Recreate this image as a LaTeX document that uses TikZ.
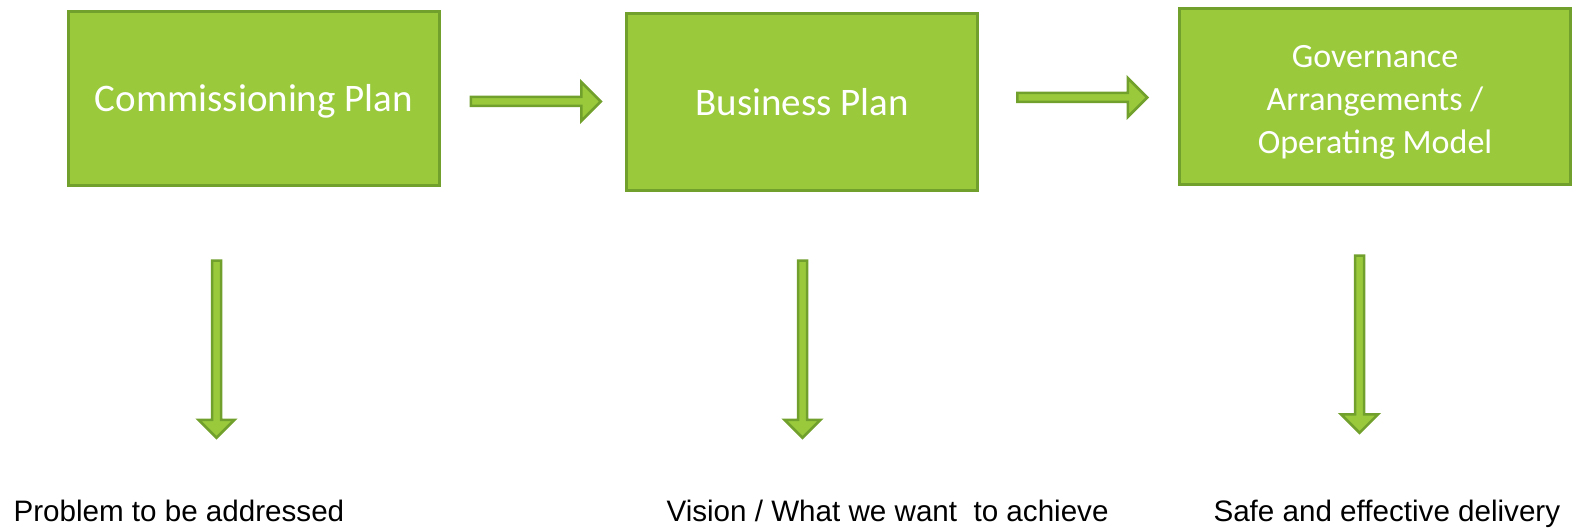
\documentclass[tikz,border=0pt]{standalone}
\usepackage{fontspec}
\setmainfont{Liberation Sans}
\newfontfamily\boxfont{Carlito}
\usetikzlibrary{shapes.arrows}

\definecolor{planfill}{HTML}{9ACA3C}
\definecolor{planedge}{HTML}{72A02C}

\tikzset{
  planbox/.style={draw=planedge, fill=planfill, line width=3pt, text=white,
    align=center, inner sep=0pt},
  flowarrow/.style={single arrow, draw=planedge, fill=planfill, line width=2.5pt,
    inner sep=3.25pt, single arrow head extend=15pt, single arrow tip angle=90,
    minimum width=0pt, minimum height=130pt},
  outcome/.style={anchor=base west, font=\fontsize{29.6}{34}\selectfont}
}

\begin{document}
\begin{tikzpicture}[x=1pt,y=1pt]
\useasboundingbox (0,0) rectangle (1574,-529);

\node[planbox, minimum width=371pt, minimum height=174pt, text height=34pt, text depth=7pt,
  font=\boxfont\fontsize{39}{47}\selectfont] (commission) at (254,-98.5) {Commissioning Plan};
\node[planbox, minimum width=351pt, minimum height=177pt, text height=35pt, text depth=7pt,
  font=\boxfont\fontsize{39}{47}\selectfont] (business) at (802,-102) {Business Plan};
\node[planbox, minimum width=391pt, minimum height=176pt, text height=120.5pt,
  font=\boxfont\fontsize{34}{43}\selectfont] (governance) at (1375,-96.5)
  {Governance\\Arrangements /\\Operating Model};

% arrows between the plans
\node[flowarrow] (step1) at (533.5,-101.5) {};
\node[flowarrow] (step2) at (1080,-97.5) {};

% arrows down to what each plan gives
\node[flowarrow, rotate=-90, minimum height=177pt, single arrow head extend=13.5pt] (down1) at (216.5,-347) {};
\node[flowarrow, rotate=-90, minimum height=177pt, single arrow head extend=13.5pt] (down2) at (802.5,-347) {};
\node[flowarrow, rotate=-90, minimum height=177pt, single arrow head extend=14pt] (down3) at (1359.5,-342) {};

\node[outcome] (problem) at (10,-521) {Problem to be addressed};
\node[outcome] (vision) at (663,-521) {Vision / What we want \ to achieve};
\node[outcome] (delivery) at (1210,-521) {Safe and effective delivery};

\end{tikzpicture}
\end{document}
